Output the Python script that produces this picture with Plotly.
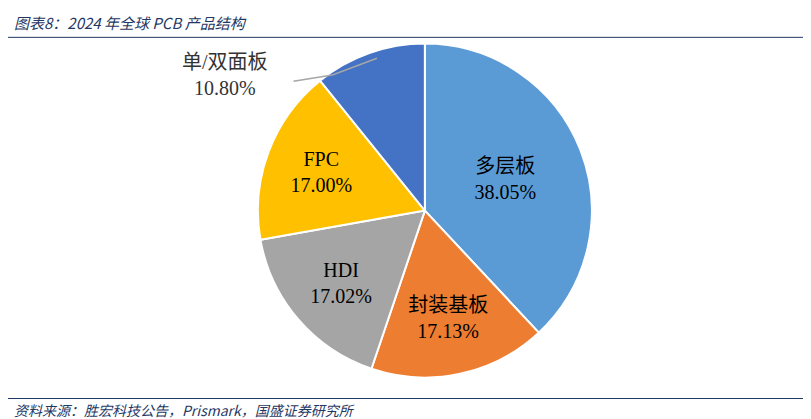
import plotly.graph_objects as go

labels = ["多层板", "封装基板", "HDI", "FPC", "单/双面板"]
values = [38.05, 17.13, 17.02, 17.00, 10.80]
colors = ["#5B9BD5", "#ED7D31", "#A5A5A5", "#FFC000", "#4472C4"]

# small slice labelled outside with a leader line (as in the source chart)
text = [f"{l}<br>{v:.2f}%" for l, v in zip(labels[:-1], values[:-1])] + [""]

fig = go.Figure(go.Pie(
    labels=labels, values=values, text=text, textinfo="text",
    sort=False, direction="clockwise", rotation=0,
    marker=dict(colors=colors, line=dict(color="white", width=2)),
    textposition="inside",
    insidetextorientation="horizontal",
    textfont=dict(family="Liberation Serif, Noto Sans CJK SC", size=20, color="black"),
    domain=dict(x=[0.307, 0.721], y=[0.118, 0.915]),
    showlegend=False, hoverinfo="label+percent",
))

fig.update_layout(
    width=811, height=419, margin=dict(l=0, r=0, t=0, b=0),
    paper_bgcolor="white",
    annotations=[
        dict(text="<i>图表8：2024 年全球 PCB 产品结构</i>", x=0.005, y=0.995,
             xref="paper", yref="paper", xanchor="left", yanchor="top", showarrow=False,
             font=dict(family="Noto Sans CJK SC", size=15, color="#1F3864")),
        dict(text="<i>资料来源：胜宏科技公告，Prismark，国盛证券研究所</i>", x=0.005, y=0.012,
             xref="paper", yref="paper", xanchor="left", yanchor="bottom", showarrow=False,
             font=dict(family="Noto Sans CJK SC", size=14, color="#1F3864")),
        dict(text=f"{labels[-1]}<br>{values[-1]:.2f}%", x=0.268, y=0.84,
             xref="paper", yref="paper", xanchor="center", yanchor="middle", showarrow=False,
             font=dict(family="Liberation Serif, Noto Sans CJK SC", size=20, color="#333333")),
    ],
    shapes=[
        dict(type="line", xref="paper", yref="paper", x0=0, x1=1, y0=0.93, y1=0.93,
             line=dict(color="#1F3864", width=1)),
        dict(type="line", xref="paper", yref="paper", x0=0, x1=1, y0=0.068, y1=0.068,
             line=dict(color="#1F3864", width=1)),
        dict(type="path", xref="paper", yref="paper",
             path="M 0.352 0.825 L 0.40 0.84 L 0.455 0.88",
             line=dict(color="#A6A6A6", width=1.5)),
    ],
)

fig.write_html("out.html")
